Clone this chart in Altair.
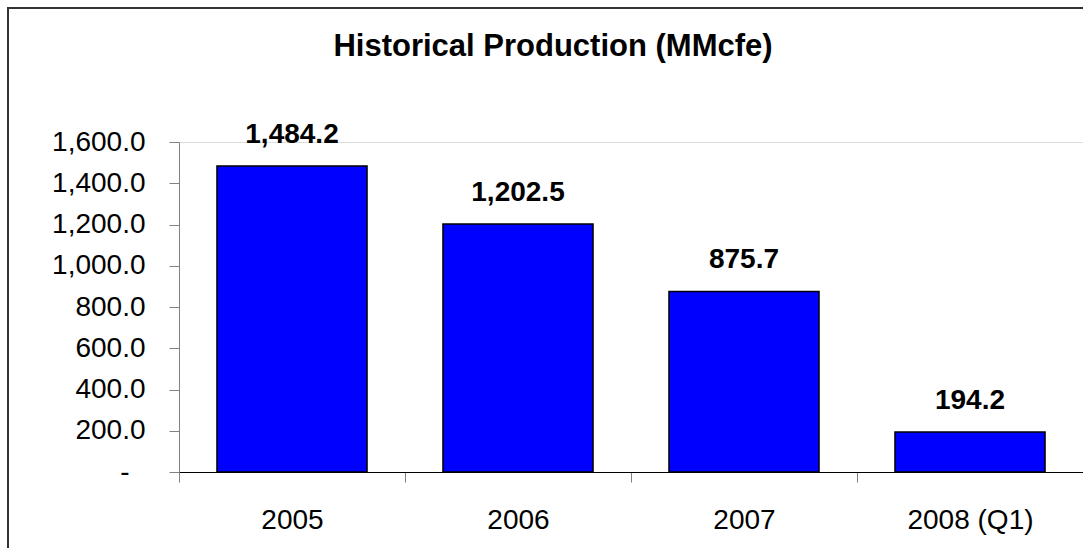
import altair as alt
import pandas as pd

# Annual production, MMcfe
periods = ["2005", "2006", "2007", "2008 (Q1)"]
production = [1484.2, 1202.5, 875.7, 194.2]
y_ticks = [0, 200, 400, 600, 800, 1000, 1200, 1400, 1600]
chart_title = "Historical Production (MMcfe)"

FONT = "Liberation Sans, Arial, Helvetica, sans-serif"
STEP = 226  # pixel width of one category slot

df = pd.DataFrame({"period": periods, "value": production})

x_enc = alt.X(
    "period:N",
    sort=periods,
    title=None,
    scale=alt.Scale(paddingInner=0.336, paddingOuter=0.168),
    axis=alt.Axis(
        labelAngle=0,
        labelFontSize=28,
        labelFont=FONT,
        labelColor="#000000",
        labelPadding=24,
        # ticks sit on the category boundaries, labels stay centred
        tickOffset=-STEP / 2,
        labelOffset=STEP / 2,
        tickSize=10,
        tickColor="#808080",
        domainColor="#000000",
        domainWidth=1.2,
    ),
)
y_enc = alt.Y(
    "value:Q",
    title=None,
    scale=alt.Scale(domain=[0, 1600], nice=False),
    axis=alt.Axis(
        values=y_ticks,
        labelExpr="datum.value == 0 ? '-' : format(datum.value, ',.1f')",
        labelFontSize=28,
        labelFont=FONT,
        labelColor="#000000",
        labelPadding={"condition": {"test": "datum.value == 0", "value": 40}, "value": 24},
        tickSize=10,
        tickColor="#808080",
        domainColor="#808080",
        grid=False,
    ),
)

bars = alt.Chart(df).mark_bar(
    color="#0000FF", stroke="#000000", strokeWidth=1.5
).encode(x=x_enc, y=y_enc)

labels = alt.Chart(df).mark_text(
    baseline="alphabetic", dy=-23, fontSize=28, fontWeight="bold",
    font=FONT, color="#000000"
).encode(
    x=alt.X("period:N", sort=periods),
    y="value:Q",
    text=alt.Text("value:Q", format=",.1f"),
)

one = pd.DataFrame({"k": [0]})

# outer frame around the whole figure
frame = alt.Chart(one).mark_rect(
    filled=False, stroke="#333333", strokeWidth=2, clip=False
).encode(
    x=alt.value(-171), x2=alt.value(960),
    y=alt.value(-134), y2=alt.value(450),
)

title = alt.Chart(one).mark_text(
    text=chart_title, fontSize=31, fontWeight="bold", font=FONT,
    baseline="alphabetic", align="center", color="#000000"
).encode(x=alt.value(374), y=alt.value(-86))

chart = alt.layer(frame, bars, labels, title).properties(
    width=904,
    height=330,
    autosize=alt.AutoSizeParams(type="none"),
    padding={"left": 179, "top": 142, "right": 0, "bottom": 76},
).configure_view(stroke=None).configure(background="#ffffff")

chart.save("out.html", embed_options={"renderer": "svg", "actions": False})
